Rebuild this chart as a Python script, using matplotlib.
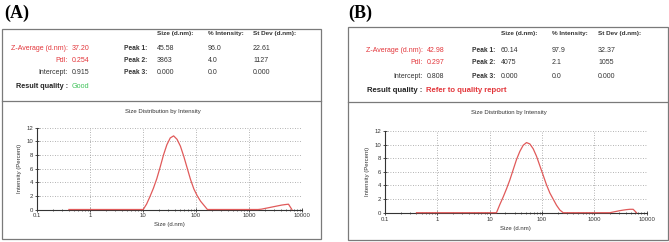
import matplotlib
matplotlib.use("Agg")
import matplotlib.pyplot as plt
from matplotlib.patches import Rectangle
from matplotlib.ticker import FixedLocator, LogLocator, NullFormatter

W, H = 669, 242

# size bins (d.nm) and intensity (%)
sizes_a = [0.4, 10.10, 11.70, 13.54, 15.69, 18.17, 21.04, 24.36, 28.21, 32.67, 37.84,
           43.82, 50.75, 58.77, 68.06, 78.82, 91.28, 105.7, 122.4, 141.8, 164.2,
           1484, 1718, 1990, 2305, 2669, 3091, 3580, 4145, 4801, 5560, 6439]
inten_a = [0, 0, 0.8, 1.9, 3.1, 4.5, 6.2, 8.0, 9.5, 10.5, 10.8,
           10.3, 9.3, 7.8, 6.1, 4.4, 3.0, 2.0, 1.2, 0.6, 0,
           0, 0.05, 0.15, 0.25, 0.35, 0.45, 0.55, 0.65, 0.72, 0.78, 0]

sizes_b = [0.4, 13.54, 15.69, 18.17, 21.04, 24.36, 28.21, 32.67, 37.84, 43.82, 50.75,
           58.77, 68.06, 78.82, 91.28, 105.7, 122.4, 141.8, 164.2, 190.1, 220.2, 255.0,
           1990, 2305, 2669, 3091, 3580, 4145, 4801, 5560, 6439]
inten_b = [0, 0, 1.2, 2.3, 3.5, 4.8, 6.3, 7.8, 9.0, 9.9, 10.3,
           10.1, 9.4, 8.3, 6.9, 5.5, 4.1, 2.9, 2.0, 1.1, 0.4, 0,
           0, 0.1, 0.2, 0.3, 0.38, 0.45, 0.5, 0.5, 0]

headers = ["Size (d.nm):", "% Intensity:", "St Dev (d.nm):"]
peak_names = ["Peak 1:", "Peak 2:", "Peak 3:"]
left_labels = ["Z-Average (d.nm):", "PdI:", "Intercept:"]

peaks_a = [["45.58", "96.0", "22.61"], ["3863", "4.0", "1127"], ["0.000", "0.0", "0.000"]]
left_a = ["37.20", "0.254", "0.915"]
quality_a = "Good"

peaks_b = [["60.14", "97.9", "32.37"], ["4075", "2.1", "1055"], ["0.000", "0.0", "0.000"]]
left_b = ["42.98", "0.297", "0.808"]
quality_b = "Refer to quality report"

yticks = [0, 2, 4, 6, 8, 10, 12]
xticks = [0.1, 1, 10, 100, 1000, 10000]
xticklabels = ["0.1", "1", "10", "100", "1000", "10000"]

RED = "#e3363b"
CURVE = "#e05a5a"
GREEN = "#3fc35a"
plt.rcParams["font.family"] = ["Liberation Sans", "DejaVu Sans"]

fig = plt.figure(figsize=(W / 100, H / 100), dpi=100)


def fx(x):
    return x / W


def fy(y):
    return 1 - y / H


def txt(x, y, s, **kw):
    kw.setdefault("fontsize", 5.0)
    kw.setdefault("va", "center")
    fig.text(fx(x), fy(y), s, **kw)


def panel(letter, lx, box, hdr_x, rows_y, lab_x, peak_x, title_y, ax_rect,
          peaks, left_vals, quality, qcolor, qsize, sizes, inten):
    x0, y0, x1, y1, ydiv = box
    txt(lx, 13, letter, fontsize=13, fontweight="bold",
        family="Liberation Serif", ha="left")
    fig.add_artist(Rectangle((fx(x0), fy(y1)), fx(x1 - x0), (y1 - y0) / H,
                             transform=fig.transFigure, fill=False,
                             ec="#7a7a7a", lw=0.9))
    fig.add_artist(plt.Line2D([fx(x0), fx(x1)], [fy(ydiv), fy(ydiv)],
                              transform=fig.transFigure, color="#7a7a7a", lw=0.9))
    for hx, h in zip(hdr_x, headers):
        txt(hx, rows_y[0], h, fontsize=4.6, fontweight="bold", color="#333333")
    colors = [RED, RED, "#333333"]
    for i in range(3):
        y = rows_y[i + 1]
        txt(lab_x - 2, y, left_labels[i], ha="right", color=colors[i])
        txt(lab_x + 2, y, left_vals[i], ha="left", color=colors[i])
        txt(peak_x, y, peak_names[i], fontsize=4.8, fontweight="bold", color="#333333")
        for hx, v in zip(hdr_x, peaks[i]):
            txt(hx, y, v, color="#333333")
    txt(lab_x - 2, rows_y[4], "Result quality :", ha="right",
        fontsize=qsize, fontweight="bold", color="#222222")
    txt(lab_x + 2, rows_y[4], quality, ha="left", fontsize=qsize,
        color=qcolor, fontweight="bold" if qcolor == RED else "normal")
    txt((x0 + x1) / 2 + 1, title_y, "Size Distribution by Intensity",
        ha="center", fontsize=4.3, color="#333333")

    ax_l, ax_r, ax_b, ax_t = ax_rect
    ax = fig.add_axes([fx(ax_l), fy(ax_b), fx(ax_r - ax_l), (ax_b - ax_t) / H])
    ax.set_xscale("log")
    ax.set_xlim(0.1, 10000)
    ax.set_ylim(0, 12)
    ax.plot(sizes, inten, color=CURVE, lw=0.9, zorder=3, clip_on=False)
    ax.xaxis.set_major_locator(FixedLocator(xticks))
    ax.set_xticklabels(xticklabels)
    ax.xaxis.set_minor_locator(LogLocator(base=10, subs=range(2, 10), numticks=20))
    ax.xaxis.set_minor_formatter(NullFormatter())
    ax.set_yticks(yticks)
    ax.tick_params(axis="both", which="major", labelsize=4.3, length=2.5,
                   width=0.6, direction="inout", pad=1.5, colors="#333333")
    ax.tick_params(axis="x", which="minor", length=2, width=0.5, direction="inout",
                   color="#333333")
    ax.grid(True, which="major", ls=(0, (1, 2)), color="#9a9a9a", lw=0.6)
    for s in ["top", "right"]:
        ax.spines[s].set_visible(False)
    for s in ["left", "bottom"]:
        ax.spines[s].set_color("#333333")
        ax.spines[s].set_linewidth(0.8)
    ax.set_xlabel("Size (d.nm)", fontsize=4.3, labelpad=3, color="#333333")
    ax.set_ylabel("Intensity (Percent)", fontsize=4.3, labelpad=3, color="#333333")
    ax.set_facecolor("none")
    return ax


panel("(A)", 4, (2, 29, 321, 239, 101), [157, 208, 253], [33, 48, 61, 73, 87],
      70, 124, 111, (37, 302, 209.5, 127.7), peaks_a, left_a, quality_a, GREEN,
      5.2, sizes_a, inten_a)
panel("(B)", 348, (348, 27, 668, 240, 102), [501, 552, 598], [34, 50, 63, 77, 90],
      424.5, 472, 112.7, (385, 646.5, 212.7, 131), peaks_b, left_b, quality_b, RED,
      5.6, sizes_b, inten_b)

fig.savefig("out.png", dpi=100)
